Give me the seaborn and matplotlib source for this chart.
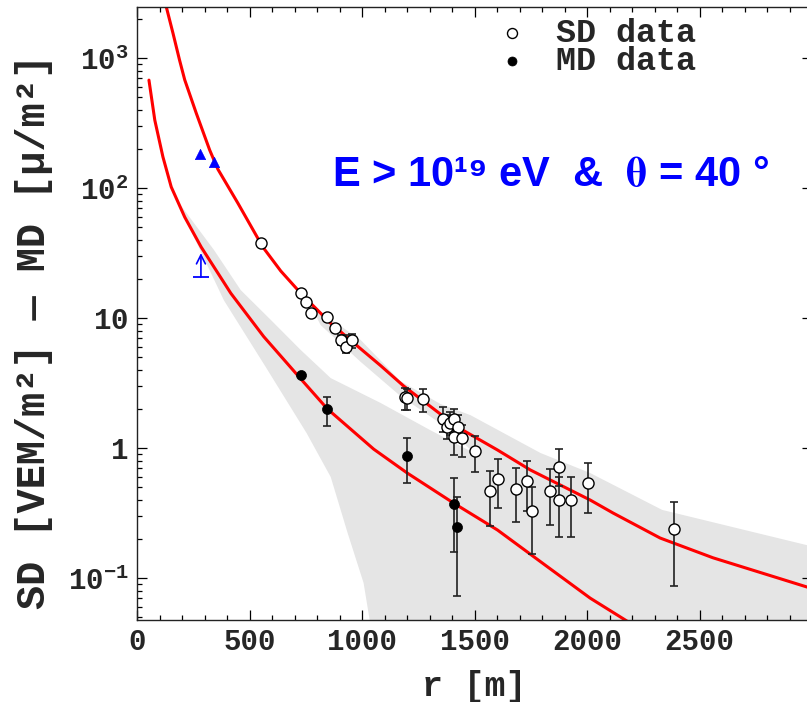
# -------------------------------------------
# lateral distribution: SD / MD signals vs core distance
import matplotlib
matplotlib.use('Agg')
import matplotlib.pyplot as plt
import seaborn as sns
from matplotlib.ticker import MultipleLocator, LogLocator, NullFormatter

# -------------------------------------------
# data

# red fitted curves
sd_fit_r = [130, 160, 189, 212, 263, 323, 359, 448, 559, 639, 728, 861, 994, 1083,
            1185, 1424, 1602, 1748, 2014, 2116, 2325, 2560, 2977, 3000]
sd_fit_v = [2480, 1550, 965, 680, 378, 196, 140, 76.7, 35.2, 23.0, 15.5, 9.1, 5.8, 4.3,
            3.0, 1.45, 0.966, 0.678, 0.398, 0.316, 0.203, 0.143, 0.0853, 0.083]
md_fit_r = [53, 79, 115, 152, 212, 285, 417, 563, 728, 846, 1052, 1201, 1407, 1602,
            1824, 2014, 2170, 2200]
md_fit_v = [677, 333, 174, 102, 59.8, 35.2, 15.5, 7.2, 3.4, 2.0, 0.98, 0.642, 0.377, 0.234,
            0.122, 0.070, 0.0475, 0.044]

# grey uncertainty bands (MD band and SD band)
band_md_top_r = [177, 342, 461, 595, 728, 861, 1083, 1304, 1557, 1793, 2014, 2325, 2977, 3000]
band_md_top_v = [80.9, 33.4, 16.4, 9.66, 5.67, 3.45, 2.22, 1.37, 0.809, 0.62, 0.398, 0.203, 0.0853, 0.083]
band_md_bot_r = [177, 253, 386, 572, 754, 861, 936, 1007, 1034, 1060, 3000]
band_md_bot_v = [80.9, 42.0, 13.7, 4.2, 1.30, 0.598, 0.222, 0.0916, 0.0475, 0.01, 0.01]

band_sd_top_r = [770, 816, 994, 1171, 1349, 1482, 1793, 2014, 2334, 2977, 3000]
band_sd_top_v = [12.6, 11.1, 6.78, 3.27, 2.18, 1.79, 0.916, 0.642, 0.334, 0.179, 0.175]
band_sd_bot_r = [770, 816, 994, 1171, 1393, 1557, 1793, 2014, 2334, 2977, 3000]
band_sd_bot_v = [12.6, 8.83, 4.6, 2.51, 1.37, 0.727, 0.598, 0.378, 0.196, 0.081, 0.079]

# SD data (open circles): r, value, lower and upper end of the error bar
sd_r  = [550, 728, 750, 775, 843, 879, 908, 930, 957, 1193, 1201, 1271, 1361, 1378, 1390,
         1408, 1427, 1408, 1445, 1501, 1571, 1605, 1685, 1735, 1754, 1837, 1874, 1874,
         1929, 2004, 2388]
sd_v  = [37.6, 15.5, 13.3, 11.0, 10.2, 8.42, 6.76, 6.0, 6.76, 2.48, 2.42, 2.38, 1.67, 1.46, 1.55,
         1.66, 1.46, 1.22, 1.2, 0.955, 0.464, 0.581, 0.484, 0.561, 0.33, 0.47, 0.718, 0.40,
         0.40, 0.54, 0.238]
sd_lo = [37.6, 15.5, 13.3, 11.0, 10.2, 8.42, 6.2, 5.4, 5.9, 1.95, 1.95, 1.90, 1.33, 1.18, 1.25,
         1.35, 1.15, 0.88, 0.85, 0.65, 0.252, 0.345, 0.268, 0.327, 0.152, 0.256, 0.51, 0.206,
         0.206, 0.315, 0.087]
sd_hi = [37.6, 15.5, 13.3, 11.0, 10.2, 8.42, 7.4, 7.4, 7.6, 2.89, 2.85, 2.85, 2.07, 1.8, 1.9,
         2.0, 1.8, 1.5, 1.5, 1.24, 0.668, 0.818, 0.698, 0.794, 0.504, 0.685, 0.977, 0.601,
         0.601, 0.771, 0.386]

# MD data (filled circles)
md_r  = [728, 846, 1201, 1408, 1424]
md_v  = [3.65, 1.99, 0.867, 0.371, 0.248]
md_lo = [3.65, 1.48, 0.54, 0.158, 0.073]
md_hi = [3.65, 2.48, 1.2, 0.585, 0.42]

# blue triangles and the blue lower limit
tri_r = [281, 342]
tri_v = [182, 158]
lim_r = [284]
lim_v = [20.6]
lim_tip = [31.6]

x_ticks = [0, 500, 1000, 1500, 2000, 2500]
y_ticks = [0.1, 1, 10, 100, 1000]
y_tick_labels = [r'$\mathbf{10^{-1}}$', r'$\mathbf{1}$', r'$\mathbf{10}$',
                 r'$\mathbf{10^{2}}$', r'$\mathbf{10^{3}}$']

# -------------------------------------------
# style
sns.set_theme(style='ticks')
plt.rcParams['font.family'] = ['Liberation Mono', 'DejaVu Sans Mono']
plt.rcParams['font.weight'] = 'bold'
plt.rcParams['mathtext.fontset'] = 'custom'
plt.rcParams['mathtext.rm'] = 'Liberation Mono:bold'
plt.rcParams['mathtext.bf'] = 'Liberation Mono:bold'
plt.rcParams['mathtext.it'] = 'Liberation Mono:bold'

band_col = '#e5e5e5'
red = '#ff0000'
blue = '#0000ff'

fig = plt.figure(figsize=(8.07, 7.02), dpi=100)
ax = fig.add_axes([0.1698, 0.1168, 0.8364, 0.873])
ax.set_yscale('log')

# grey bands
ax.fill(band_md_top_r + band_md_bot_r[::-1], band_md_top_v + band_md_bot_v[::-1],
        color=band_col, lw=0, zorder=0)
ax.fill(band_sd_top_r + band_sd_bot_r[::-1], band_sd_top_v + band_sd_bot_v[::-1],
        color=band_col, lw=0, zorder=0)

# fitted curves
sns.lineplot(x=sd_fit_r, y=sd_fit_v, ax=ax, color=red, lw=2.2, sort=False, estimator=None, zorder=2)
sns.lineplot(x=md_fit_r, y=md_fit_v, ax=ax, color=red, lw=2.2, sort=False, estimator=None, zorder=2)

# error bars (only where there is one)
for r, v, lo, hi in zip(sd_r + md_r, sd_v + md_v, sd_lo + md_lo, sd_hi + md_hi):
    if hi > lo:
        ax.errorbar([r], [v], yerr=[[v - lo], [hi - v]], fmt='none', ecolor='#222222',
                    elinewidth=1.2, capsize=3, capthick=1.2, zorder=3)

# data points
sns.scatterplot(x=sd_r, y=sd_v, ax=ax, marker='o', s=64, facecolor='white',
                edgecolor='black', linewidth=1.0, zorder=4, label='SD data')
sns.scatterplot(x=md_r, y=md_v, ax=ax, marker='o', s=52, color='black',
                edgecolor='black', linewidth=0.5, zorder=4, label='MD data')
sns.scatterplot(x=tri_r, y=tri_v, ax=ax, marker='^', s=55, color=blue,
                edgecolor=blue, linewidth=0.5, zorder=4)

# lower limit arrow
ax.plot(lim_r, lim_v, marker='_', ms=12, mew=1.3, color=blue, ls='none', zorder=4)
for r, v0, v1 in zip(lim_r, lim_v, lim_tip):
    ax.annotate('', xy=(r, v1), xytext=(r, v0),
                arrowprops=dict(arrowstyle='->', color=blue, lw=1.2,
                                shrinkA=0, shrinkB=0, mutation_scale=16))

# axes
ax.set_xlim(0, 3000)
ax.set_ylim(0.0475, 2466)
ax.set_xticks(x_ticks)
ax.xaxis.set_minor_locator(MultipleLocator(100))
ax.set_yticks(y_ticks, labels=y_tick_labels)
ax.yaxis.set_minor_locator(LogLocator(base=10, subs=range(2, 10)))
ax.yaxis.set_minor_formatter(NullFormatter())
ax.tick_params(which='both', direction='in', top=True, right=True, color='black', width=0.9)
ax.tick_params(which='major', length=7, labelsize=21, pad=6)
ax.tick_params(which='minor', length=3.5)
for lab in ax.get_xticklabels():
    lab.set_fontweight('bold')
for sp in ax.spines.values():
    sp.set_color('#222222')
    sp.set_linewidth(1.0)

ax.set_xlabel('r [m]', fontsize=25, fontweight='bold', labelpad=10)
ax.set_ylabel('SD [VEM/m²] — MD [μ/m²]', fontsize=29, fontweight='bold')
ax.yaxis.set_label_coords(-0.125, 0.47)

# energy / angle label
ax.text(0.613, 0.726, 'E > 10¹⁹ eV  &  $\\mathrm{\\theta}$ = 40 °', transform=ax.transAxes,
        ha='center', va='center', color=blue, fontsize=30, fontweight='bold',
        family=['Liberation Sans', 'DejaVu Sans'], math_fontfamily='stix')

# legend
h, l = ax.get_legend_handles_labels()
keep = [l.index('SD data'), l.index('MD data')]
ax.legend([h[i] for i in keep], [l[i] for i in keep], loc='upper left',
          bbox_to_anchor=(0.497, 1.021), frameon=False, fontsize=24,
          handletextpad=0.8, labelspacing=-0.08, borderpad=0.2,
          handlelength=1.0, markerscale=0.9)

fig.savefig('out.png', dpi=100)
